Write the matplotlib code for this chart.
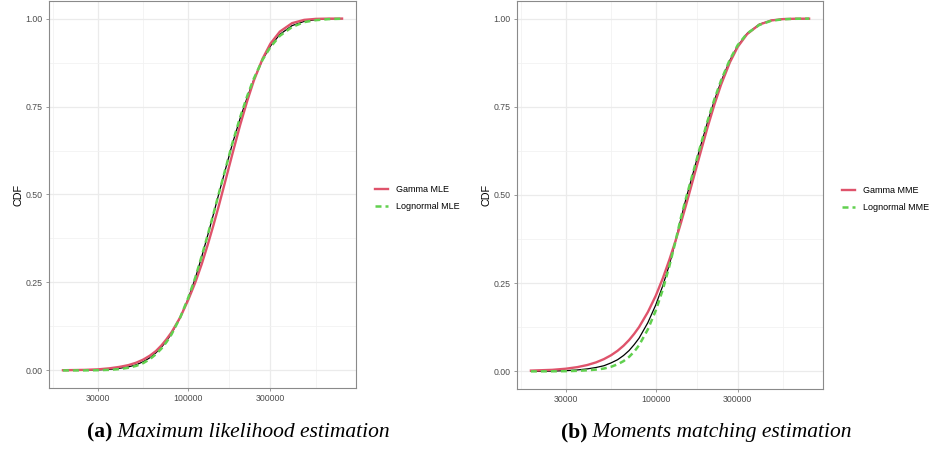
import matplotlib
matplotlib.use("Agg")
import matplotlib.pyplot as plt
from matplotlib.ticker import FixedLocator, FuncFormatter, NullFormatter

plt.rcParams["font.family"] = ["Liberation Sans", "DejaVu Sans"]

# Claim amounts at which the CDFs are evaluated
amounts = [18800, 25000, 30000, 35000, 40000, 45000, 50000, 55000, 60000, 65000,
           70000, 75000, 80000, 90000, 100000, 110000, 120000, 130000, 140000,
           150000, 165000, 180000, 200000, 220000, 240000, 270000, 300000,
           340000, 400000, 470000, 550000, 650000, 780000]

# (a) maximum likelihood fits
empirical_mle = [0.0, 0.0006, 0.0015, 0.003, 0.006, 0.010, 0.016, 0.025, 0.036,
                 0.050, 0.066, 0.084, 0.104, 0.151, 0.204, 0.262, 0.324, 0.385,
                 0.443, 0.499, 0.574, 0.642, 0.716, 0.776, 0.826, 0.883, 0.922,
                 0.955, 0.980, 0.992, 0.997, 0.9993, 1.0]
gamma_mle = [0.0005, 0.0015, 0.003, 0.006, 0.010, 0.015, 0.022, 0.031, 0.042,
             0.055, 0.071, 0.089, 0.108, 0.151, 0.200, 0.250, 0.303, 0.358,
             0.412, 0.465, 0.542, 0.613, 0.697, 0.766, 0.823, 0.886, 0.929,
             0.963, 0.987, 0.9963, 0.9992, 0.9999, 1.0]
lognormal_mle = [0.0, 0.0001, 0.0006, 0.0016, 0.0038, 0.0075, 0.013, 0.021, 0.032,
                 0.046, 0.062, 0.081, 0.102, 0.151, 0.206, 0.264, 0.326, 0.386,
                 0.444, 0.500, 0.575, 0.644, 0.719, 0.780, 0.829, 0.883, 0.919,
                 0.951, 0.976, 0.990, 0.9956, 0.9985, 0.9996]

# (b) moments matching fits
empirical_mme = [0.0, 0.0008, 0.002, 0.004, 0.007, 0.011, 0.016, 0.024, 0.033,
                 0.045, 0.059, 0.076, 0.094, 0.138, 0.188, 0.243, 0.302, 0.366,
                 0.432, 0.489, 0.562, 0.629, 0.706, 0.770, 0.822, 0.882, 0.923,
                 0.958, 0.984, 0.995, 0.9988, 0.9998, 1.0]
gamma_mme = [0.0022, 0.0043, 0.0075, 0.012, 0.018, 0.0255, 0.0348, 0.0457, 0.0583,
             0.0727, 0.0888, 0.1066, 0.1255, 0.168, 0.214, 0.264, 0.316, 0.368,
             0.420, 0.471, 0.544, 0.611, 0.691, 0.758, 0.813, 0.876, 0.920,
             0.956, 0.983, 0.9948, 0.9987, 0.9998, 1.0]
lognormal_mme = [0.0, 0.0002, 0.0006, 0.0015, 0.003, 0.005, 0.008, 0.013, 0.020,
                 0.029, 0.041, 0.056, 0.074, 0.119, 0.172, 0.232, 0.298, 0.366,
                 0.435, 0.491, 0.564, 0.631, 0.709, 0.773, 0.825, 0.884, 0.925,
                 0.958, 0.982, 0.9940, 0.9982, 0.9996, 1.0]

x_breaks = [30000, 100000, 300000]
x_minor = [16432, 54772, 173205, 547723]
y_breaks = [0.0, 0.25, 0.5, 0.75, 1.0]
y_minor = [0.125, 0.375, 0.625, 0.875]

RED = "#DF536B"
GREEN = "#61D04F"

fig = plt.figure(figsize=(9.3, 4.5), dpi=100)
W, H = 930, 450

panels = [
    dict(rect=(49, 62, 307, 387), emp=empirical_mle, gam=gamma_mle, lno=lognormal_mle,
         labels=("Gamma MLE", "Lognormal MLE"), leg=(375, 198),
         tag="(a)", caption="Maximum likelihood estimation", cx=238),
    dict(rect=(517, 61, 306, 388), emp=empirical_mme, gam=gamma_mme, lno=lognormal_mme,
         labels=("Gamma MME", "Lognormal MME"), leg=(842, 199),
         tag="(b)", caption="Moments matching estimation", cx=706),
]

captions = []
for p in panels:
    l, b, w, h = p["rect"]
    ax = fig.add_axes([l / W, b / H, w / W, h / H])
    ax.set_xscale("log")
    ax.plot(amounts, p["emp"], color="black", lw=0.9, zorder=3)
    ax.plot(amounts, p["gam"], color=RED, lw=1.7, zorder=4, label=p["labels"][0])
    ax.plot(amounts, p["lno"], color=GREEN, lw=1.8, ls=(0, (2.4, 1.6)), zorder=5,
            label=p["labels"][1])
    ax.margins(x=0.05, y=0.05)

    ax.xaxis.set_major_locator(FixedLocator(x_breaks))
    ax.xaxis.set_minor_locator(FixedLocator(x_minor))
    ax.xaxis.set_major_formatter(FuncFormatter(lambda v, _: f"{int(round(v))}"))
    ax.xaxis.set_minor_formatter(NullFormatter())
    ax.yaxis.set_major_locator(FixedLocator(y_breaks))
    ax.yaxis.set_minor_locator(FixedLocator(y_minor))
    ax.yaxis.set_major_formatter(FuncFormatter(lambda v, _: f"{v:.2f}"))

    ax.grid(which="major", color="#ebebeb", lw=0.9, zorder=0)
    ax.grid(which="minor", color="#f2f2f2", lw=0.6, zorder=0)
    ax.set_axisbelow(True)
    for s in ax.spines.values():
        s.set_color("#8a8a8a")
        s.set_linewidth(0.8)
    ax.tick_params(which="major", length=2.5, width=0.6, color="#8a8a8a",
                   labelsize=6.3, labelcolor="#4d4d4d", pad=2)
    ax.tick_params(which="minor", length=0)
    ax.set_ylabel("CDF", fontsize=7.8, color="black", labelpad=1.5)

    lx, ly = p["leg"]
    ax.legend(loc="center left", bbox_to_anchor=(lx / W, (H - ly) / H),
              bbox_transform=fig.transFigure, frameon=False, fontsize=6.5,
              handlelength=1.45, handletextpad=0.85, labelspacing=0.85,
              borderpad=0, borderaxespad=0)

    t1 = fig.text(0, 13 / H, p["tag"], fontsize=15.5, fontweight="bold",
                  family="Liberation Serif", va="baseline")
    t2 = fig.text(0, 13 / H, " " + p["caption"], fontsize=15.5, style="italic",
                  family="Liberation Serif", va="baseline")
    captions.append((t1, t2, p["cx"]))

fig.canvas.draw()
r = fig.canvas.get_renderer()
for t1, t2, cx in captions:
    w1 = t1.get_window_extent(r).width
    w2 = t2.get_window_extent(r).width
    x0 = cx - (w1 + w2) / 2
    t1.set_x(x0 / W)
    t2.set_x((x0 + w1) / W)

fig.savefig("out.png", dpi=100, facecolor="white")
